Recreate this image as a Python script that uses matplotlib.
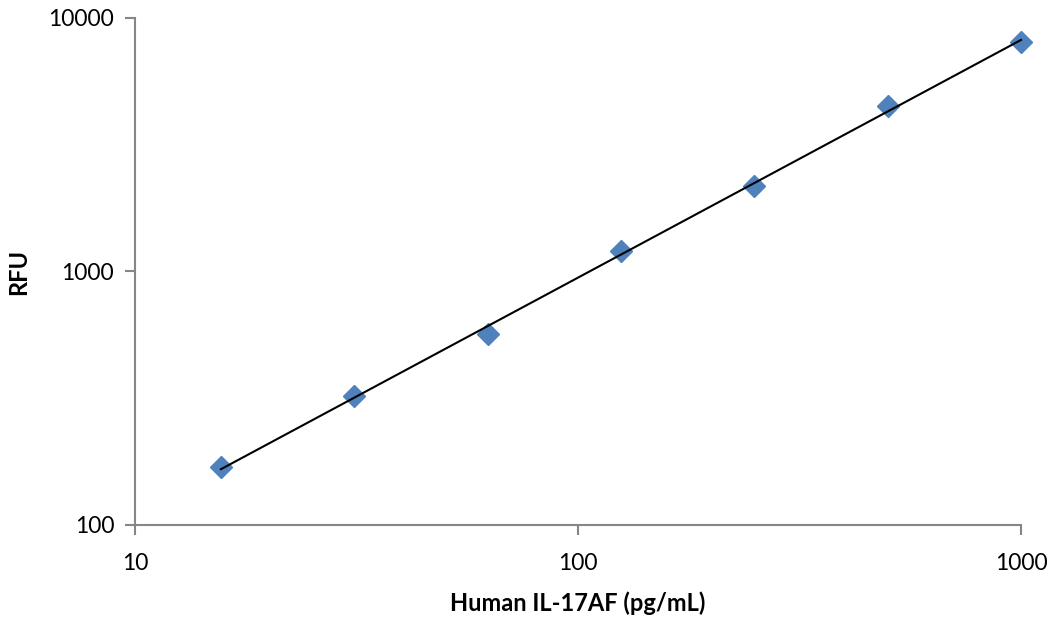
import numpy as np
import matplotlib.pyplot as plt

plt.rcParams['font.family'] = ['Lato', 'DejaVu Sans']

# standard curve points
conc = [15.625, 31.25, 62.5, 125, 250, 500, 1000]
rfu = [169, 323, 567, 1205, 2173, 4497, 8036]

# power trendline (fit in log space)
slope, icpt = np.polyfit(np.log10(conc), np.log10(rfu), 1)
xfit = np.array([conc[0], conc[-1]])
yfit = 10 ** (icpt + slope * np.log10(xfit))

fig = plt.figure(figsize=(10.5, 6.18), dpi=100)
ax = fig.add_axes([0.1286, 0.1505, 0.8438, 0.8204])

ax.plot(conc, rfu, linestyle='none', marker='D', markersize=11,
        color='#4F81BD', zorder=2, clip_on=False)
ax.plot(xfit, yfit, color='black', linewidth=1.5, zorder=3, clip_on=False)

ax.set_xscale('log')
ax.set_yscale('log')
ax.set_xlim(10, 1000)
ax.set_ylim(100, 10000)
ax.set_xticks([10, 100, 1000])
ax.set_xticklabels(['10', '100', '1000'])
ax.set_yticks([100, 1000, 10000])
ax.set_yticklabels(['100', '1000', '10000'])
ax.minorticks_off()

for s in ['top', 'right']:
    ax.spines[s].set_visible(False)
for s in ['left', 'bottom']:
    ax.spines[s].set_color('#868686')
    ax.spines[s].set_linewidth(1.5)
ax.tick_params(direction='out', length=7, width=1.5, color='#868686',
               labelsize=16.5, pad=8)
ax.tick_params(axis='x', pad=13)

ax.set_xlabel('Human IL-17AF (pg/mL)', fontsize=17, fontweight='bold', labelpad=13)
ax.set_ylabel('RFU', fontsize=17, fontweight='bold', labelpad=13)

fig.savefig('out.png', dpi=100)
